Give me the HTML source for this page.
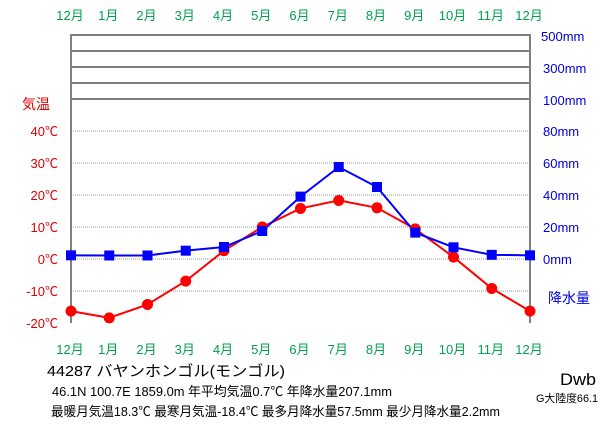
<!DOCTYPE html>
<html><head><meta charset="utf-8"><style>
body{margin:0;background:#fff;}
svg text{font-family:"Liberation Sans","Noto Sans CJK JP",sans-serif;}
</style></head><body>
<svg width="611" height="425" viewBox="0 0 611 425">
<g id="frame"></g>
<g id="labels"></g>
<g id="series"></g>
<g fill="#000">
<text x="47" y="376" font-size="15" textLength="238" lengthAdjust="spacingAndGlyphs">44287  バヤンホンゴル(モンゴル)</text>
<text x="52" y="396" font-size="13" textLength="340" lengthAdjust="spacingAndGlyphs">46.1N  100.7E  1859.0m 年平均気温0.7℃  年降水量207.1mm</text>
<text x="51" y="416" font-size="13" textLength="449" lengthAdjust="spacingAndGlyphs">最暖月気温18.3℃ 最寒月気温-18.4℃ 最多月降水量57.5mm 最少月降水量2.2mm</text>
<text x="560" y="385" font-size="17" textLength="36" lengthAdjust="spacingAndGlyphs">Dwb</text>
<text x="536" y="402" font-size="11" textLength="62" lengthAdjust="spacingAndGlyphs">G大陸度66.1</text>
</g>
</svg>
<script>
const months=["12月","1月","2月","3月","4月","5月","6月","7月","8月","9月","10月","11月","12月"];
const temps=[-16.3,-18.4,-14.2,-6.9,2.6,10.0,15.8,18.3,16.0,9.4,0.6,-9.2,-16.3];
const precip=[2.3,2.2,2.2,5.2,7.5,17.5,39.0,57.5,45.0,16.5,7.3,2.6,2.3];
const tempTicks=[40,30,20,10,0,-10,-20];
const precipTicks=[80,60,40,20,0];
const upperTicks=["500mm","300mm","100mm"];
const NS="http://www.w3.org/2000/svg";
const X0=71,X1=530;
const xs=i=>X0+i*(X1-X0)/12;
const yT=t=>259-t*3.2;
const yP=p=>259-p*1.6;
function mk(tag,attrs,parent){const e=document.createElementNS(NS,tag);for(const k in attrs)e.setAttribute(k,attrs[k]);parent.appendChild(e);return e;}
const frame=document.getElementById('frame'),labels=document.getElementById('labels'),series=document.getElementById('series');
[35,51,67,83,99].forEach((y,i)=>{const l=mk('line',{x1:X0,x2:X1,y1:y,y2:y,stroke:'#808080','stroke-width':2},frame);

});
tempTicks.forEach(t=>{if(t===-20)return;const l=mk('line',{x1:X0,x2:X1,y1:yT(t),y2:yT(t),stroke:'#999','stroke-width':1,'stroke-dasharray':'1,1'},frame);

});
const bl=mk('line',{x1:X0,x2:X0,y1:34,y2:323,stroke:'#808080','stroke-width':2},frame);


const br=mk('line',{x1:X1,x2:X1,y1:34,y2:323,stroke:'#808080','stroke-width':2},frame);


months.forEach((m,i)=>{[15,349].forEach(y=>{const t=mk('text',{x:xs(i)-1,y:y+5,'text-anchor':'middle','font-size':13,fill:'#00a050'},labels);t.textContent=m;

});});
const tt=mk('text',{x:22,y:109,'font-size':14,fill:'#e00000'},labels);tt.textContent='気温';


tempTicks.forEach(t=>{const e=mk('text',{x:58,y:yT(t)+5,'text-anchor':'end','font-size':13,fill:'#e00000'},labels);e.textContent=t+'℃';

});
precipTicks.forEach(p=>{const e=mk('text',{x:543,y:yP(p)+5,'font-size':13,fill:'#0000e0'},labels);e.textContent=p+'mm';

});
upperTicks.forEach((s,i)=>{const e=mk('text',{x:i===0?541:543,y:36+i*32+5,'font-size':13,fill:'#0000e0'},labels);e.textContent=s;

});
const pt=mk('text',{x:548,y:303,'font-size':14,fill:'#0000e0'},labels);pt.textContent='降水量';


const tl=mk('polyline',{points:temps.map((t,i)=>xs(i)+','+yT(t)).join(' '),fill:'none',stroke:'#ff0000','stroke-width':2},series);


const pl=mk('polyline',{points:precip.map((p,i)=>xs(i)+','+yP(p)).join(' '),fill:'none',stroke:'#0000ff','stroke-width':2},series);


temps.forEach((t,i)=>{const c=mk('circle',{cx:xs(i),cy:yT(t),r:5.5,fill:'#ff0000'},series);

});
precip.forEach((p,i)=>{const r=mk('rect',{x:xs(i)-5,y:yP(p)-5,width:10,height:10,fill:'#0000ff'},series);

});
</script>
</body></html>
